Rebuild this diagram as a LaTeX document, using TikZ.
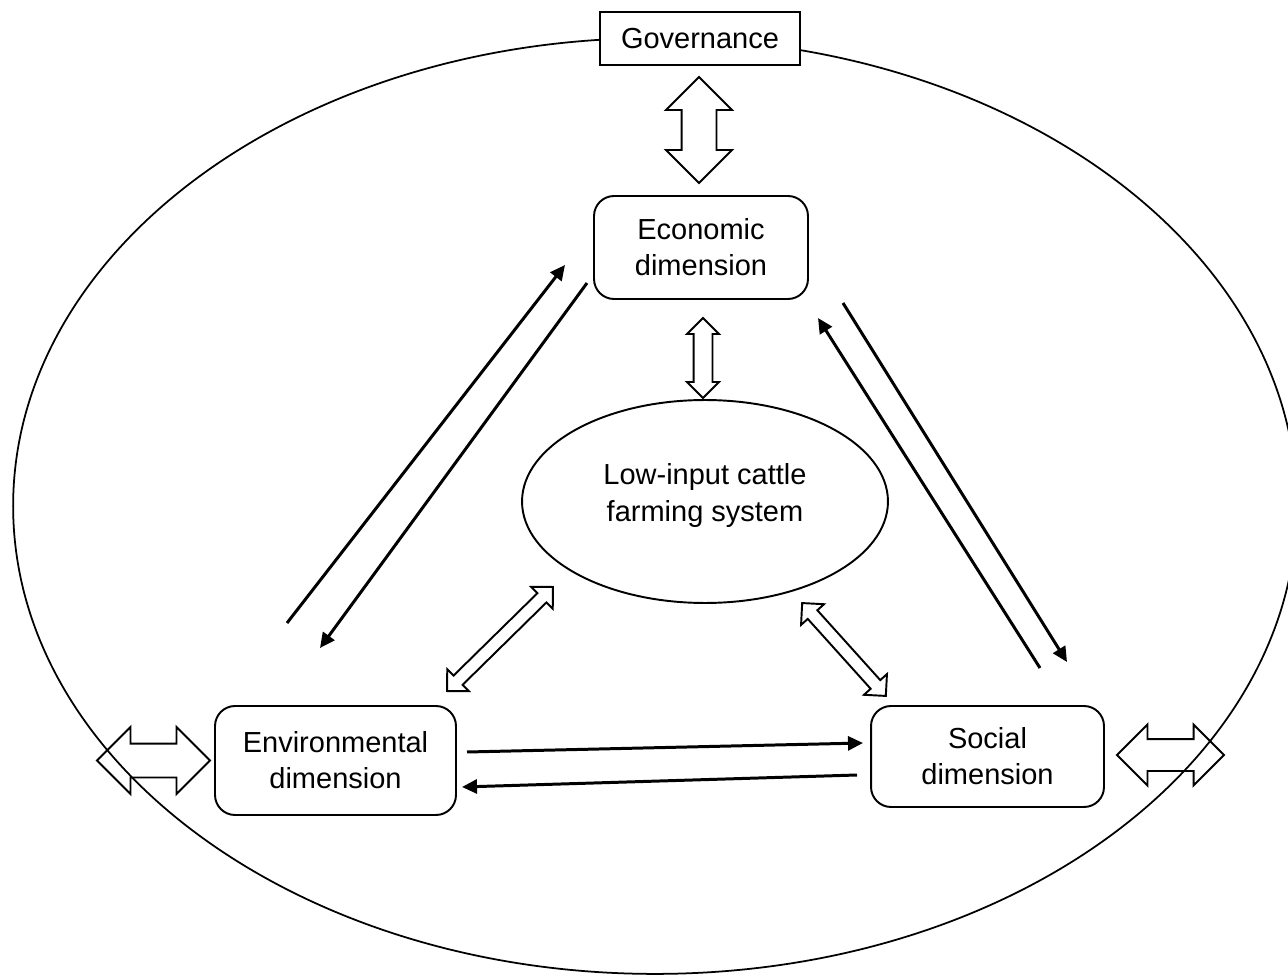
\documentclass[tikz,border=0pt]{standalone}
\usepackage{fontspec}
\setmainfont{Liberation Sans}
\usetikzlibrary{arrows.meta, shapes.geometric, shapes.arrows}
\tikzset{
  every picture/.style={font=\fontsize{16.5}{20.5}\selectfont, line width=1.1pt},
  box/.style={draw, fill=white, align=center, inner sep=0pt},
  dimbox/.style={box, rounded corners=0.4cm},
  arrow/.style={-{Triangle[length=0.3cm, width=0.28cm]}, line width=1.7pt},
  twoway/.style n args={3}{draw, double arrow, minimum height=#1, minimum width=#2,
    inner xsep=0pt, inner ysep={#3/2}, double arrow head extend={(#2-#3)/2}},
}
\begin{document}
\begin{tikzpicture}[x=0.02cm, y=-0.02cm]
  \useasboundingbox (0,0) rectangle (1288,976);
  % outer ellipse
  \draw[line width=1pt] (655,506) ellipse [x radius=12.84cm, y radius=9.36cm];
  \node[box, minimum width=4cm, minimum height=1.06cm] (gov) at (700,38.5) {Governance};
  \node[dimbox, minimum width=4.28cm, minimum height=2.06cm] (econ) at (701,247.5) {Economic\\dimension};
  \node[draw, ellipse, align=center, inner sep=0pt, text depth=0.36cm, minimum width=7.32cm, minimum height=4.06cm] (farm) at (705,501.5) {Low-input cattle\\farming system};
  \node[dimbox, minimum width=4.82cm, minimum height=2.18cm] (env) at (335.5,760.5) {Environmental\\dimension};
  \node[dimbox, minimum width=4.66cm, minimum height=2.02cm] (soc) at (987.5,756.5) {Social\\dimension};
  % hollow two-way links
  \node[twoway={2.12cm}{1.28cm}{0.66cm}, rotate=90] (govlink) at (699,130) {};
  \node[twoway={1.6cm}{0.6cm}{0.34cm}, rotate=90] (farmlink) at (703,358) {};
  \node[twoway={2.26cm}{1.3cm}{0.64cm}] (envout) at (153.5,760.5) {};
  \node[twoway={2.14cm}{1.18cm}{0.6cm}] (socout) at (1170.5,755) {};
  \node[twoway={2.97cm}{0.58cm}{0.22cm}, rotate=44.5] (envlink) at (500,639) {};
  \node[twoway={2.5cm}{0.58cm}{0.22cm}, rotate=-48] (soclink) at (844,649.5) {};
  % ends of the one-way arrows
  \coordinate (ea1) at (287,623); \coordinate (ea2) at (565,265);
  \coordinate (eb1) at (587,283); \coordinate (eb2) at (320,648);
  \coordinate (sa1) at (843,303); \coordinate (sa2) at (1067,662);
  \coordinate (sb1) at (1040,668); \coordinate (sb2) at (818,318);
  \coordinate (ha1) at (467,752); \coordinate (ha2) at (863,743);
  \coordinate (hb1) at (857,775); \coordinate (hb2) at (462,787);
  \foreach \a/\b in {ea1/ea2, eb1/eb2, sa1/sa2, sb1/sb2, ha1/ha2, hb1/hb2}
    \draw[arrow] (\a) -- (\b);
\end{tikzpicture}
\end{document}
